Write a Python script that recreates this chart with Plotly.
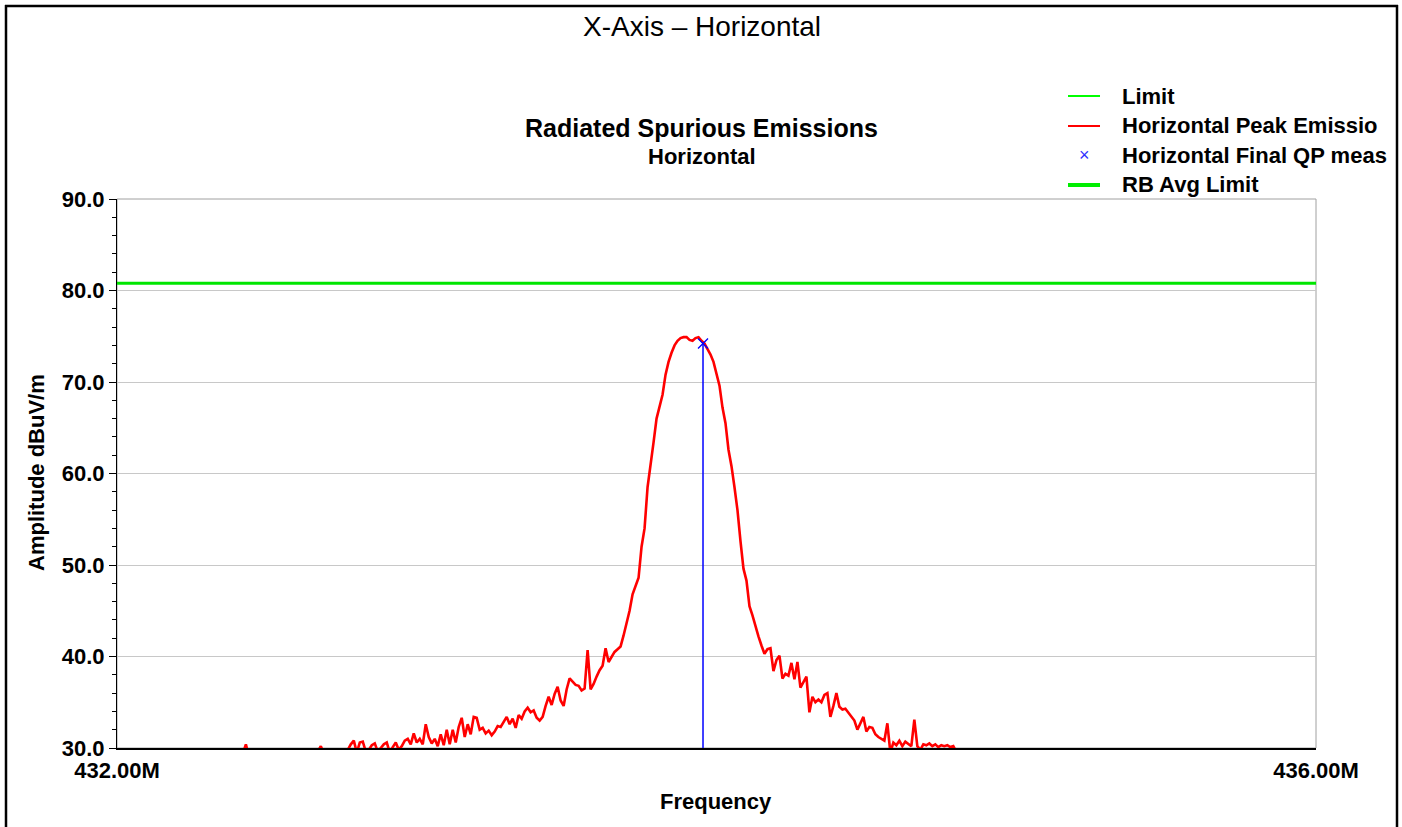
import plotly.graph_objects as go

# ---------------- data ----------------
SWEEP_START_MHZ = 432.30
SWEEP_STEP_MHZ = 0.01
peak_emission_dbuv = [
    28.6, 28.9, 28.4, 29.0, 28.7, 28.5, 29.1, 28.8, 28.6, 29.2, 28.9, 29.0, 29.4,
    30.4,
    29.1, 28.8, 28.7, 29.2, 28.9, 28.6, 29.0, 28.8, 29.3, 28.9, 28.7, 29.1, 29.0, 28.8,
    29.2, 29.4, 28.9, 29.1, 29.3, 29.0, 29.2, 29.5, 29.1, 29.6,
    30.2,
    29.4, 29.2, 29.6, 29.3, 29.5, 29.7, 29.4, 29.6, 29.8,
    30.4, 30.8, 29.5, 30.6, 30.7, 29.6, 29.8, 30.3, 30.5, 29.6,
    30.0, 30.4, 30.6, 29.5, 30.1, 30.6, 29.8, 30.2, 30.8, 31.0,
    30.4, 31.6, 30.6, 31.0, 30.4, 32.6, 31.2, 30.5, 31.0, 30.2,
    31.5, 30.3, 32.0, 30.4, 32.0, 30.6, 32.3, 33.3, 31.2, 32.6,
    31.5, 33.4, 33.3, 32.0, 32.2, 31.6, 31.9, 31.4, 31.8, 32.4,
    32.3, 32.9, 33.4, 32.6, 33.2, 32.2, 33.6, 33.2, 34.0, 34.4,
    33.9, 34.1, 33.3, 33.0, 33.4, 34.6, 35.6, 34.7, 35.9, 36.7,
    35.2, 34.6, 36.4, 37.6, 37.2, 36.9, 36.8, 36.3, 36.5, 40.7,
    36.4, 37.0, 37.8, 38.5, 39.0, 40.9, 39.4, 40.0, 40.5, 40.8,
    41.1, 42.3, 43.5, 45.0, 46.8, 47.8, 48.6, 52.0, 54.0, 58.5,
    60.8, 63.4, 66.0, 67.3, 68.6, 70.8, 72.2, 73.2, 74.0, 74.5,
    74.8, 74.9, 74.9, 74.6, 74.5, 74.8, 74.9, 74.5, 74.2, 73.6,
    73.0, 72.2, 70.8, 69.6, 67.2, 65.5, 62.6, 60.8, 58.5, 56.0,
    52.6, 49.6, 48.3, 45.5, 44.5, 43.2, 42.2, 41.2, 40.3, 40.8,
    40.9, 38.4, 39.6, 40.1, 37.6, 38.1, 37.9, 39.3, 37.5, 39.4,
    36.6, 37.2, 37.8, 33.9, 35.6, 35.0, 35.3, 35.0, 35.8, 36.0,
    33.4, 34.6, 36.0, 34.5, 34.2, 34.3, 33.9, 33.4, 33.0, 32.0,
    32.8, 33.4, 31.8, 32.3, 32.2, 31.5, 31.2, 31.0, 30.8, 32.7,
    29.5, 30.6, 30.3, 30.8, 30.2, 30.7, 30.4, 30.2, 33.1, 30.2,
    29.8, 30.4, 30.3, 30.5, 30.2, 30.4, 30.1, 30.3, 30.2, 30.3, 30.1, 30.2,
    29.6, 29.3, 29.0, 29.2, 28.8, 29.1, 28.7, 28.9, 28.6, 28.8, 28.5,
]
freq_mhz = [SWEEP_START_MHZ + i * SWEEP_STEP_MHZ for i in range(len(peak_emission_dbuv))]

qp_freq_mhz = [433.955]
qp_amp_dbuv = [74.2]

limit_dbuv = 80.8
rb_avg_limit_dbuv = 80.8

x_range = [432.0, 436.0]
y_range = [30.0, 90.0]
x_tick_vals = [432.0, 436.0]
x_tick_text = ["432.00M", "436.00M"]
y_tick_vals = [30, 40, 50, 60, 70, 80, 90]

legend_labels = ["Limit", "Horizontal Peak Emissio", "Horizontal Final QP meas", "RB Avg Limit"]

# ---------------- layout geometry ----------------
W, H = 1402, 827
PL, PR, PT, PB = 117, 1316, 199, 748  # plot area in pixels


def px(xp):
    return (xp - PL) / (PR - PL)


def py(yp):
    return (PB - yp) / (PB - PT)


FONT = "Liberation Sans, Arial, sans-serif"

fig = go.Figure()

# limits
fig.add_trace(go.Scatter(x=x_range, y=[limit_dbuv, limit_dbuv], mode="lines",
                         line=dict(color="#00ff00", width=1.5), name="Limit", showlegend=False))
fig.add_trace(go.Scatter(x=x_range, y=[rb_avg_limit_dbuv, rb_avg_limit_dbuv], mode="lines",
                         line=dict(color="#00e600", width=3), name="RB Avg Limit", showlegend=False))

# peak emissions
fig.add_trace(go.Scatter(x=freq_mhz, y=peak_emission_dbuv, mode="lines",
                         line=dict(color="#ff0000", width=2.6), name="Horizontal Peak Emissions",
                         showlegend=False))

# QP final measurement: stem + marker
for f, a in zip(qp_freq_mhz, qp_amp_dbuv):
    fig.add_trace(go.Scatter(x=[f, f], y=[y_range[0], a], mode="lines",
                             line=dict(color="#0000ff", width=1.5), showlegend=False,
                             hoverinfo="skip"))
fig.add_trace(go.Scatter(x=qp_freq_mhz, y=qp_amp_dbuv, mode="markers",
                         marker=dict(symbol="x-thin", size=10, line=dict(color="#0000ff", width=1.3),
                                     color="#0000ff"),
                         name="Horizontal Final QP measurement", showlegend=False))

shapes = []
# plot frame (gray top/right)
shapes.append(dict(type="rect", xref="paper", yref="paper", x0=0, x1=1, y0=0, y1=1,
                   line=dict(color="#a0a0a0", width=1), layer="below"))
# outer cell border
bw = 2.5
shapes.append(dict(type="line", xref="paper", yref="paper", x0=px(5), x1=px(1398), y0=py(6), y1=py(6),
                   line=dict(color="black", width=bw)))
shapes.append(dict(type="line", xref="paper", yref="paper", x0=px(6), x1=px(6), y0=py(5), y1=py(835),
                   line=dict(color="black", width=bw)))
shapes.append(dict(type="line", xref="paper", yref="paper", x0=px(1397), x1=px(1397), y0=py(5), y1=py(835),
                   line=dict(color="black", width=bw)))

# manual legend
leg_y = [96, 126, 155, 185]
leg_sym_x0, leg_sym_x1, leg_text_x = 1068, 1100, 1120
shapes.append(dict(type="line", xref="paper", yref="paper", x0=px(leg_sym_x0), x1=px(leg_sym_x1),
                   y0=py(leg_y[0]), y1=py(leg_y[0]), line=dict(color="#00ff00", width=2)))
shapes.append(dict(type="line", xref="paper", yref="paper", x0=px(leg_sym_x0), x1=px(leg_sym_x1),
                   y0=py(leg_y[1]), y1=py(leg_y[1]), line=dict(color="#ff0000", width=2)))
shapes.append(dict(type="line", xref="paper", yref="paper", x0=px(leg_sym_x0), x1=px(leg_sym_x1),
                   y0=py(leg_y[3]), y1=py(leg_y[3]), line=dict(color="#00ee00", width=4)))

annotations = []
bold = dict(family=FONT, size=22, color="black", weight="bold")
for lbl, yy in zip(legend_labels, leg_y):
    annotations.append(dict(x=px(leg_text_x), y=py(yy), xref="paper", yref="paper", text=lbl,
                            showarrow=False, xanchor="left", yanchor="middle", font=bold))
annotations.append(dict(x=px((leg_sym_x0 + leg_sym_x1) / 2), y=py(leg_y[2]), xref="paper", yref="paper",
                        text="×", showarrow=False, xanchor="center", yanchor="middle",
                        font=dict(family=FONT, size=18, color="#3030ff")))

# titles
annotations.append(dict(x=px(702), y=py(26), xref="paper", yref="paper", text="X-Axis – Horizontal",
                        showarrow=False, xanchor="center", yanchor="middle",
                        font=dict(family=FONT, size=28, color="black")))
annotations.append(dict(x=px(701), y=py(128), xref="paper", yref="paper", text="Radiated Spurious Emissions",
                        showarrow=False, xanchor="center", yanchor="middle",
                        font=dict(family=FONT, size=25, color="black", weight="bold")))
annotations.append(dict(x=px(702), y=py(156), xref="paper", yref="paper", text="Horizontal",
                        showarrow=False, xanchor="center", yanchor="middle", font=bold))
annotations.append(dict(x=px(716), y=py(801), xref="paper", yref="paper", text="Frequency",
                        showarrow=False, xanchor="center", yanchor="middle", font=bold))
annotations.append(dict(x=px(36), y=py(473), xref="paper", yref="paper", text="Amplitude dBuV/m",
                        showarrow=False, xanchor="center", yanchor="middle", textangle=-90, font=bold))

fig.update_layout(
    width=W, height=H,
    margin=dict(l=PL, r=W - PR, t=PT, b=H - PB, pad=0),
    paper_bgcolor="white", plot_bgcolor="white",
    font=dict(family=FONT, color="black"),
    shapes=shapes, annotations=annotations,
    showlegend=False,
    xaxis=dict(range=x_range, tickvals=x_tick_vals, ticktext=x_tick_text, ticks="",
               showline=True, linecolor="black", linewidth=1.5, showgrid=False, zeroline=False,
               tickfont=dict(family=FONT, size=22, color="black", weight="bold"),
               ticklabelstandoff=2),
    yaxis=dict(range=y_range, tickvals=y_tick_vals, tickformat=".1f", ticks="outside", ticklen=7,
               tickcolor="black", tickwidth=1, showline=True, linecolor="black", linewidth=1,
               showgrid=True, gridcolor="#c8c8c8", gridwidth=1, zeroline=False,
               tickfont=dict(family=FONT, size=22, color="black", weight="bold"),
               minor=dict(dtick=2, ticks="outside", ticklen=4, tickcolor="black", showgrid=False)),
)

fig.write_html("out.html")
